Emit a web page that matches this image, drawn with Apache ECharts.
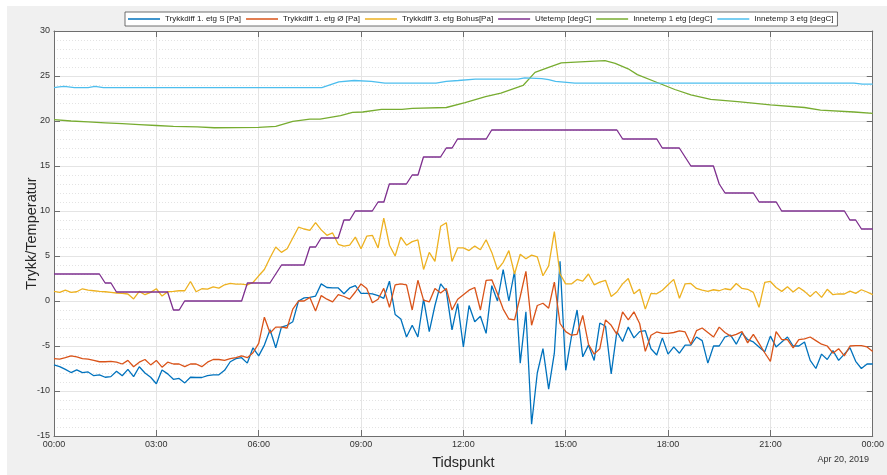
<!DOCTYPE html>
<html>
<head>
<meta charset="utf-8">
<title>Trykk og temperatur</title>
<script src="https://cdn.jsdelivr.net/npm/echarts@6/dist/echarts.min.js"></script>
<style>
  html, body { margin: 0; padding: 0; background: #f0f0f0; }
  #chart { width: 887px; height: 475px; }
</style>
</head>
<body>
<div id="chart"></div>
<script>
// Pressure differences, sampled every 10 minutes from 00:00 (145 samples)
const trykkS = [
  -7.1, -7.3, -7.6, -7.95, -7.66, -7.95, -7.88, -8.3, -8.2, -8.47, -8.4, -7.8,
  -8.3, -7.6, -8.4, -7.3, -8.0, -8.47, -9.2, -7.66, -8.1, -8.7, -8.6, -9.1,
  -8.47, -8.5, -8.5, -8.3, -8.2, -8.2, -7.7, -6.75, -6.4, -6.3, -6.9, -5.2,
  -6.1, -4.9, -3.2, -5.2, -2.9, -2.7, -2.3, 0.0, 0.35, 0.4, 0.55, 1.9,
  1.5, 1.45, 1.45, 0.8, 1.45, 1.7, 0.85, 0.85, 0.8, 0.6, 0.3, 2.2,
  -1.5, -2.0, -4.0, -2.7, -4.0, 0.2, -3.4, -0.5, 1.9, 1.1, -3.2, -0.3,
  -5.1, -0.5, -2.3, -1.7, -3.6, 1.7, 0.0, 3.5, 0.0, 3.3, -6.9, -1.2,
  -13.7, -8.0, -5.3, -9.8, -5.8, 4.4, -7.7, -4.0, -1.0, -6.2, -4.9, -6.6,
  -2.45, -2.8, -8.1, -3.4, -4.5, -2.9, -4.1, -3.4, -3.3, -5.3, -6.0, -4.1,
  -5.9, -5.1, -5.8, -4.9, -4.9, -4.0, -4.4, -6.9, -5.0, -5.0, -4.0, -3.8,
  -4.8, -3.55, -4.3, -4.55, -5.1, -5.65, -3.9, -5.1, -4.55, -4.0, -5.0, -5.0,
  -4.55, -6.6, -7.5, -5.9, -6.5, -5.5, -6.6, -5.9, -5.2, -6.7, -7.5, -7.0,
  -7.0
];
const trykkO = [
  -6.4, -6.45, -6.3, -6.1, -6.2, -6.4, -6.45, -6.6, -6.75, -6.75, -6.7, -6.8,
  -7.0, -6.6, -7.3, -6.8, -6.5, -7.1, -6.6, -7.35, -6.8, -7.0, -7.0, -7.3,
  -7.0, -7.0, -7.3, -6.8, -6.5, -6.5, -6.6, -6.4, -6.3, -6.1, -6.3, -5.75,
  -4.7, -1.8, -3.55, -2.9, -2.9, -3.0, -0.9, 0.0, 0.0, 0.4, -1.1, 0.6,
  0.2, -0.1, 0.7, 0.5, 0.2, 1.0, 1.9, 1.4, -0.2, 0.2, 1.4, -0.7,
  1.8, 1.9, 1.8, -1.0, 2.3, 0.1, -0.1, 1.4, 0.9, 1.4, -1.0, 0.2,
  0.7, 1.2, 1.5, -1.0, 2.3, 2.35, 0.8, -0.9, -2.0, -2.1, 0.5, 3.3,
  -2.7, -0.5, -0.25, -0.8, 2.1, -2.5, -3.4, -3.8, -3.7, -1.6, -4.8, -5.9,
  -5.3, -2.1, -2.7, -3.7, -1.2, -2.1, -1.2, -2.5, -5.6, -3.8, -3.44, -3.6,
  -3.6, -3.5, -3.33, -3.44, -4.8, -3.3, -3.0, -3.5, -4.0, -2.9, -3.5, -3.9,
  -3.7, -3.4, -4.65, -3.7, -4.7, -5.75, -6.7, -3.4, -4.3, -4.3, -5.2, -4.3,
  -4.2, -4.0, -4.4, -4.8, -5.0, -5.8, -5.3, -6.1, -5.0, -4.95, -4.95, -5.1,
  -5.6
];
const trykk3 = [
  1.07, 0.96, 1.2, 0.96, 1.03, 1.36, 1.2, 1.14, 1.07, 1.03, 0.96, 0.89,
  0.85, 0.78, 0.23, 1.07, 0.7, 0.96, 1.36, 0.55, 1.03, 1.07, 1.14, 1.14,
  2.17, 1.03, 1.36, 1.33, 1.58, 1.43, 1.8, 1.95, 1.87, 1.87, 1.8, 2.06,
  2.8, 3.5, 4.8, 6.0, 5.4, 5.8, 7.0, 8.2, 8.0, 7.85, 8.7, 7.9,
  7.3, 7.56, 6.3, 6.1, 6.2, 7.1, 5.8, 7.2, 7.3, 5.9, 9.2, 6.2,
  5.0, 7.1, 6.2, 6.6, 6.8, 3.5, 5.4, 4.4, 8.3, 8.7, 4.4, 5.9,
  5.9, 5.6, 6.1, 5.7, 6.8, 5.4, 3.5, 4.3, 5.6, 3.0, 5.2, 4.7,
  5.1, 4.9, 2.8, 3.9, 7.7, 3.0, 1.9, 1.9, 2.4, 2.2, 3.0, 1.8,
  2.1, 2.3, 0.5, 1.0, 1.9, 2.5, 0.8, 1.3, -0.9, 0.85, 0.8, 1.2,
  1.8, 2.4, 0.3, 1.9, 1.95, 1.4, 1.2, 1.07, 1.25, 1.14, 1.36, 1.25,
  1.95, 1.4, 1.3, 0.96, -0.7, 2.06, 2.17, 1.5, 1.07, 1.58, 1.0, 1.5,
  1.07, 0.5, 1.07, 0.4, 1.3, 0.7, 0.78, 0.78, 1.1, 0.85, 1.25, 1.0,
  0.7
];

// Temperatures as [hour, degC] breakpoints
const uteTemp = [
  [0, 3], [1.33, 3], [1.5, 2], [1.67, 2], [1.83, 1], [3.33, 1], [3.5, -1], [3.67, -1],
  [3.83, 0], [5.5, 0], [5.67, 2], [6.33, 2], [6.67, 4], [7.33, 4], [7.5, 6], [7.67, 6],
  [7.83, 7], [8.33, 7], [8.5, 9], [8.67, 9], [8.83, 10], [9.33, 10], [9.5, 11], [9.67, 11],
  [9.83, 13], [10.33, 13], [10.5, 14], [10.67, 14], [10.83, 16], [11.33, 16], [11.5, 17],
  [11.67, 17], [11.83, 18], [12.67, 18], [12.83, 19], [16.5, 19], [16.67, 18], [17.67, 18],
  [17.83, 17], [18.33, 17], [18.67, 15], [19.33, 15], [19.5, 13], [19.67, 12], [20.5, 12],
  [20.67, 11], [21.17, 11], [21.33, 10], [23.17, 10], [23.33, 9], [23.5, 9], [23.67, 8], [24, 8]
];
const inne1 = [
  [0, 20.15], [0.5, 20.0], [1, 19.9], [1.5, 19.8], [2, 19.7], [2.5, 19.6], [3, 19.5],
  [3.5, 19.4], [4.2, 19.35], [4.7, 19.25], [6.0, 19.3], [6.5, 19.4], [7.0, 19.95],
  [7.5, 20.2], [7.8, 20.2], [8.4, 20.6], [8.75, 20.95], [9.05, 21.0], [9.6, 21.3],
  [10.2, 21.3], [10.5, 21.4], [11.5, 21.5], [12.05, 22.05], [12.65, 22.7], [13.1, 23.1],
  [13.75, 23.95], [14.1, 25.4], [14.5, 25.95], [14.87, 26.45], [15.57, 26.6], [16.15, 26.7],
  [16.45, 26.4], [16.83, 25.8], [17.1, 25.15], [17.7, 24.25], [18.2, 23.5], [18.67, 22.9],
  [19.25, 22.4], [20.04, 22.15], [21.0, 21.8], [22.0, 21.5], [22.47, 21.2], [23.45, 21.0],
  [24, 20.85]
];
const inne3 = [
  [0, 23.7], [0.15, 23.8], [0.3, 23.85], [0.6, 23.7], [1.0, 23.7], [1.2, 23.85], [1.45, 23.7],
  [7.85, 23.7], [8.35, 24.35], [8.8, 24.5], [9.3, 24.4], [9.7, 24.2], [11.2, 24.2],
  [11.5, 24.4], [11.85, 24.5], [12.35, 24.65], [13.6, 24.65], [13.8, 24.8], [14.3, 24.7],
  [14.5, 24.6], [14.7, 24.4], [15.27, 24.2], [23.45, 24.2], [23.7, 24.1], [24, 24.1]
];

const seriesNames = [
  'Trykkdiff 1. etg S [Pa]',
  'Trykkdiff 1. etg Ø [Pa]',
  'Trykkdiff 3. etg Bohus[Pa]',
  'Utetemp [degC]',
  'Innetemp 1 etg [degC]',
  'Innetemp 3 etg [degC]'
];
const seriesColors = ['#0072BD', '#D95319', '#EDB120', '#7E2F8E', '#77AC30', '#4DBEEE'];

// 10-minute samples -> [hour, value]
const toHours = arr => arr.map((v, i) => [i / 6, v]);

const hourLabel = h => {
  const hh = Math.round(h) % 24;
  return (hh < 10 ? '0' : '') + hh + ':00';
};

const lineSeries = (name, data, color) => ({
  name, type: 'line', data, showSymbol: false, symbol: 'none',
  lineStyle: { color, width: 1.3 }, itemStyle: { color },
  animation: false
});

const axisColor = '#6e6e6e';
const textColor = '#333333';
const fontFamily = 'Liberation Sans, Arial, sans-serif';

const chart = echarts.init(document.getElementById('chart'), null, { renderer: 'canvas' });
chart.setOption({
  backgroundColor: '#f0f0f0',
  animation: false,
  textStyle: { fontFamily },
  grid: { left: 54, right: 11, top: 31, bottom: 35, show: true, backgroundColor: '#ffffff', borderWidth: 0 },
  legend: {
    left: 125, top: 12,
    icon: 'rect', itemWidth: 32, itemHeight: 1.5, itemGap: 5,
    padding: [3, 4, 3, 3],
    backgroundColor: '#ffffff', borderColor: '#4d4d4d', borderWidth: 0.8,
    textStyle: { fontSize: 8, color: '#1a1a1a', fontFamily },
    data: seriesNames
  },
  xAxis: [{
    type: 'value', min: 0, max: 24, interval: 3, position: 'bottom',
    name: 'Tidspunkt', nameLocation: 'middle', nameGap: 19,
    nameTextStyle: { fontSize: 14.5, color: '#262626' },
    axisLine: { show: true, onZero: false, lineStyle: { color: axisColor, width: 1 } },
    axisTick: { show: true, inside: true, length: 6, lineStyle: { color: axisColor } },
    axisLabel: { fontSize: 9, color: textColor, margin: 4, formatter: hourLabel },
    splitLine: { show: true, lineStyle: { color: '#e4e4e4', width: 1 } }
  }, {
    type: 'value', min: 0, max: 24, interval: 3, position: 'top',
    axisLine: { show: true, onZero: false, lineStyle: { color: axisColor, width: 1 } },
    axisTick: { show: true, inside: true, length: 6, lineStyle: { color: axisColor } },
    axisLabel: { show: false }, splitLine: { show: false }
  }],
  yAxis: [{
    type: 'value', min: -15, max: 30, interval: 5, position: 'left',
    name: 'Trykk/Temperatur', nameLocation: 'middle', nameGap: 15, nameRotate: 90,
    nameMoveOverlap: false,
    nameTextStyle: { fontSize: 14.5, color: '#262626' },
    axisLine: { show: true, onZero: false, lineStyle: { color: axisColor, width: 1 } },
    axisTick: { show: true, inside: true, length: 6, lineStyle: { color: axisColor } },
    axisLabel: { fontSize: 9, color: textColor, margin: 4 },
    splitLine: { show: true, lineStyle: { color: '#e4e4e4', width: 1 } },
    minorTick: { show: false, splitNumber: 5 },
    minorSplitLine: { show: true, lineStyle: { color: '#dcdcdc', width: 0.8, type: [1, 2] } }
  }, {
    type: 'value', min: -15, max: 30, interval: 5, position: 'right',
    axisLine: { show: true, onZero: false, lineStyle: { color: axisColor, width: 1 } },
    axisTick: { show: true, inside: true, length: 6, lineStyle: { color: axisColor } },
    axisLabel: { show: false }, splitLine: { show: false }
  }],
  graphic: [
    { type: 'rect', left: 0, top: 0, shape: { width: 7, height: 475 }, style: { fill: '#ffffff' }, silent: true },
    { type: 'rect', left: 0, top: 0, shape: { width: 887, height: 6 }, style: { fill: '#ffffff' }, silent: true },
    {
      type: 'text', right: 18, top: 455,
      style: { text: 'Apr 20, 2019', fontSize: 9, fill: textColor, fontFamily }
    }
  ],
  series: [
    lineSeries(seriesNames[0], toHours(trykkS), seriesColors[0]),
    lineSeries(seriesNames[1], toHours(trykkO), seriesColors[1]),
    lineSeries(seriesNames[2], toHours(trykk3), seriesColors[2]),
    lineSeries(seriesNames[3], uteTemp, seriesColors[3]),
    lineSeries(seriesNames[4], inne1, seriesColors[4]),
    lineSeries(seriesNames[5], inne3, seriesColors[5])
  ]
});
</script>
</body>
</html>
